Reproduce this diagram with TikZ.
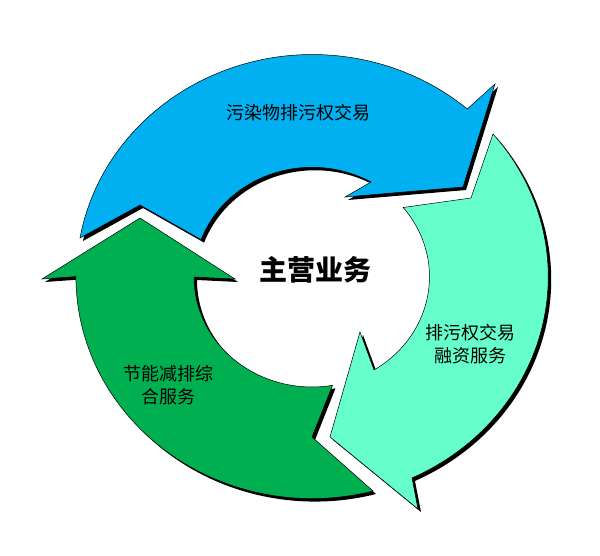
\documentclass[tikz,border=0pt]{standalone}
\usepackage{fontspec}
\newfontfamily\cjk{Noto Sans CJK SC}
\definecolor{cblue}{HTML}{00B0F0}
\definecolor{cteal}{HTML}{66FFCC}
\definecolor{cgreen}{HTML}{00B050}
\newcommand\bluepath{(80,238) arc[start angle=190,end angle=311,x radius=236,y radius=222] -- (495,84) -- (463,187) -- (345,197) -- (371,182) arc[start angle=300,end angle=200,x radius=118,y radius=110] -- (140,205) -- cycle}
\newcommand\tealpath{(493,134) arc[start angle=-40,end angle=65,x radius=236,y radius=222] -- (418,509) -- (330,437) -- (360,332) -- (374,370) arc[start angle=58,end angle=-39,x radius=118,y radius=110] -- (471,198) -- cycle}
\newcommand\greenpath{(373,491) arc[start angle=75,end angle=180,x radius=236,y radius=222] -- (42,279) -- (140,218) -- (235,279) -- (194,277) arc[start angle=180,end angle=80,x radius=118,y radius=110] -- (312,437) -- cycle}
\tikzset{shadowfill/.style={fill=black,shift={(3,3)}},
  arrowfill/.style={draw=black,line width=0.5pt,line join=miter},
  lbl/.style={font=\cjk\fontsize{18}{23}\selectfont,align=center}}
\begin{document}
\begin{tikzpicture}[x=1pt,y=-1pt]
\useasboundingbox (0,0) rectangle (600,556);
\fill[white] (0,0) rectangle (600,556);
\fill[shadowfill] \bluepath;
\fill[arrowfill,fill=cblue] \bluepath;
\fill[shadowfill] \tealpath;
\fill[arrowfill,fill=cteal] \tealpath;
\fill[shadowfill] \greenpath;
\fill[arrowfill,fill=cgreen] \greenpath;
\node[lbl] (t1) at (298,113) {污染物排污权交易};
\node[lbl] (t2) at (470,344) {排污权交易\\融资服务};
\node[lbl] (t3) at (168,385) {节能减排综\\合服务};
\node[font=\cjk\bfseries\fontsize{28}{32}\selectfont] (c) at (315,270) {主营业务};
\end{tikzpicture}
\end{document}
